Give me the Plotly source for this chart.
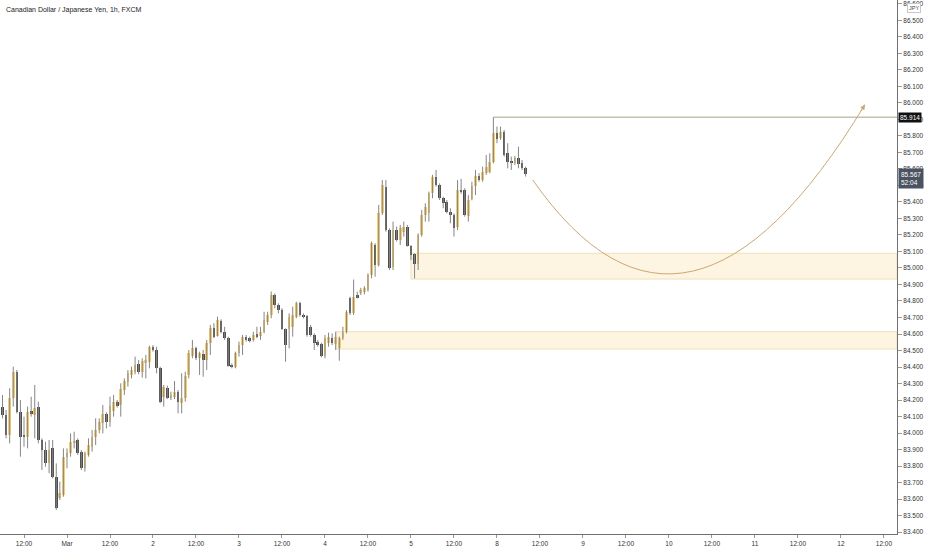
import plotly.graph_objects as go

# hourly CADJPY candles (bar index 0 = Feb 26 ~06:00)
opens = [84.160, 84.109, 83.988, 84.210, 84.372, 84.129, 83.988, 83.978, 84.135, 84.109,
         84.156, 83.958, 83.897, 83.816, 83.907, 83.735, 83.604, 83.624, 83.853, 83.877,
         83.941, 83.958, 83.887, 83.786, 83.867, 83.917, 83.978, 84.018, 84.059, 84.115,
         84.065, 84.133, 84.186, 84.170, 84.261, 84.311, 84.352, 84.368, 84.416, 84.372,
         84.422, 84.432, 84.523, 84.503, 84.392, 84.220, 84.275, 84.218, 84.220, 84.246,
         84.180, 84.210, 84.352, 84.469, 84.513, 84.453, 84.477, 84.442, 84.543, 84.634,
         84.585, 84.679, 84.614, 84.574, 84.412, 84.402, 84.483, 84.533, 84.584, 84.574,
         84.564, 84.598, 84.590, 84.614, 84.675, 84.715, 84.836, 84.776, 84.745, 84.628,
         84.628, 84.644, 84.705, 84.786, 84.715, 84.709, 84.640, 84.594, 84.554, 84.539,
         84.467, 84.543, 84.574, 84.539, 84.513, 84.574, 84.614, 84.816, 84.725, 84.836,
         84.846, 84.853, 84.867, 84.958, 85.139, 85.018, 85.331, 85.493, 85.230, 85.008,
         85.230, 85.170, 85.220, 85.251, 85.133, 85.085, 85.024, 85.200, 85.321, 85.331,
         85.453, 85.554, 85.503, 85.422, 85.402, 85.341, 85.321, 85.251, 85.475, 85.473,
         85.315, 85.420, 85.497, 85.558, 85.533, 85.574, 85.584, 85.644, 85.816, 85.786,
         85.826, 85.695, 85.650, 85.634, 85.665, 85.638, 85.604]
highs = [84.230, 84.139, 84.271, 84.402, 84.382, 84.200, 84.099, 84.160, 84.220, 84.291,
         84.190, 83.968, 83.947, 83.958, 83.958, 83.816, 83.705, 83.907, 83.907, 83.998,
         84.008, 83.968, 83.897, 83.887, 83.968, 84.018, 84.089, 84.089, 84.170, 84.125,
         84.220, 84.230, 84.200, 84.301, 84.331, 84.382, 84.402, 84.463, 84.442, 84.453,
         84.473, 84.529, 84.533, 84.523, 84.402, 84.291, 84.287, 84.251, 84.315, 84.261,
         84.362, 84.372, 84.503, 84.564, 84.523, 84.493, 84.503, 84.564, 84.655, 84.665,
         84.705, 84.689, 84.644, 84.584, 84.422, 84.493, 84.554, 84.594, 84.594, 84.584,
         84.614, 84.644, 84.644, 84.735, 84.735, 84.857, 84.846, 84.786, 84.756, 84.634,
         84.725, 84.766, 84.796, 84.796, 84.725, 84.715, 84.655, 84.604, 84.564, 84.547,
         84.594, 84.608, 84.604, 84.614, 84.584, 84.644, 84.745, 84.826, 84.930, 84.857,
         84.880, 84.890, 84.968, 85.160, 85.150, 85.382, 85.533, 85.533, 85.240, 85.281,
         85.251, 85.261, 85.281, 85.261, 85.139, 85.089, 85.210, 85.352, 85.392, 85.463,
         85.564, 85.594, 85.513, 85.432, 85.412, 85.362, 85.331, 85.533, 85.540, 85.483,
         85.442, 85.523, 85.594, 85.574, 85.614, 85.685, 85.695, 85.914, 85.857, 85.857,
         85.836, 85.756, 85.675, 85.679, 85.735, 85.655, 85.614]
lows = [84.089, 83.968, 83.937, 84.160, 84.119, 83.857, 83.917, 83.907, 84.099, 83.968,
        83.937, 83.776, 83.796, 83.756, 83.725, 83.533, 83.594, 83.614, 83.786, 83.857,
        83.907, 83.867, 83.776, 83.766, 83.857, 83.887, 83.927, 83.998, 83.998, 84.028,
        84.038, 84.099, 84.154, 84.099, 84.230, 84.281, 84.331, 84.356, 84.356, 84.335,
        84.331, 84.392, 84.493, 84.362, 84.180, 84.160, 84.206, 84.200, 84.206, 84.119,
        84.119, 84.190, 84.331, 84.453, 84.442, 84.352, 84.341, 84.382, 84.473, 84.574,
        84.584, 84.604, 84.564, 84.402, 84.392, 84.392, 84.463, 84.473, 84.554, 84.549,
        84.554, 84.574, 84.564, 84.604, 84.655, 84.695, 84.756, 84.725, 84.624, 84.432,
        84.513, 84.584, 84.695, 84.705, 84.695, 84.584, 84.584, 84.503, 84.523, 84.459,
        84.453, 84.523, 84.533, 84.503, 84.438, 84.564, 84.604, 84.715, 84.715, 84.816,
        84.836, 84.840, 84.857, 84.937, 84.947, 85.008, 85.321, 85.220, 84.988, 84.988,
        85.160, 85.139, 85.190, 85.129, 85.048, 84.937, 84.988, 85.190, 85.281, 85.281,
        85.422, 85.493, 85.412, 85.362, 85.331, 85.271, 85.190, 85.230, 85.450, 85.311,
        85.281, 85.410, 85.442, 85.523, 85.523, 85.564, 85.574, 85.634, 85.756, 85.776,
        85.675, 85.604, 85.594, 85.624, 85.604, 85.594, 85.554]
closes = [84.109, 83.988, 84.210, 84.372, 84.129, 83.978, 83.978, 84.129, 84.115, 84.149,
          83.958, 83.897, 83.816, 83.897, 83.735, 83.543, 83.634, 83.857, 83.881, 83.947,
          83.947, 83.877, 83.786, 83.877, 83.927, 83.978, 84.018, 84.065, 84.115, 84.065,
          84.166, 84.186, 84.166, 84.267, 84.315, 84.362, 84.382, 84.412, 84.368, 84.436,
          84.442, 84.523, 84.503, 84.392, 84.190, 84.281, 84.214, 84.230, 84.246, 84.190,
          84.210, 84.347, 84.483, 84.513, 84.457, 84.483, 84.442, 84.543, 84.634, 84.580,
          84.685, 84.614, 84.574, 84.406, 84.398, 84.483, 84.533, 84.584, 84.564, 84.558,
          84.594, 84.580, 84.614, 84.685, 84.715, 84.836, 84.776, 84.745, 84.628, 84.533,
          84.705, 84.715, 84.786, 84.715, 84.705, 84.594, 84.594, 84.543, 84.533, 84.467,
          84.574, 84.584, 84.547, 84.580, 84.574, 84.614, 84.735, 84.725, 84.826, 84.820,
          84.867, 84.877, 84.958, 85.149, 85.018, 85.331, 85.503, 85.230, 84.998, 85.230,
          85.170, 85.240, 85.251, 85.133, 85.079, 85.024, 85.200, 85.321, 85.372, 85.453,
          85.554, 85.503, 85.422, 85.396, 85.341, 85.321, 85.240, 85.473, 85.465, 85.321,
          85.412, 85.497, 85.558, 85.533, 85.584, 85.614, 85.644, 85.816, 85.780, 85.826,
          85.685, 85.644, 85.638, 85.665, 85.630, 85.604, 85.567]

tick_pos = [6, 18, 30, 42, 54, 66, 78, 90, 102, 114, 126, 138, 150, 162, 174, 186, 198, 210, 222, 234, 246]
tick_text = ["12:00", "Mar", "12:00", "2", "12:00", "3", "12:00", "4", "12:00", "5", "12:00",
             "8", "12:00", "9", "12:00", "10", "12:00", "11", "12:00", "12", "12:00"]

# drawings
high_start, high_price = 137, 85.914
zones = [(114, 84.933, 85.089), (93, 84.509, 84.614)]   # start bar, low, high
arc_x = [148, 190.8, 240.7]
arc_y = [85.533, 84.20, 85.99]
last_price, countdown = 85.567, "52:04"

X_MIN, X_MAX = -0.7, 249.65
Y_MIN, Y_MAX = 83.388, 86.624

BULL = "#f3cc76"
BEAR = "#4c4c4c"
WICK = "#858585"
FONT = "Liberation Sans, Arial"

idx = list(range(len(opens)))

wx, wy = [], []
for i in idx:
    wx += [i, i, None]
    wy += [lows[i], highs[i], None]

base = [min(o, c) for o, c in zip(opens, closes)]
height = [max(abs(c - o), 0.006) for o, c in zip(opens, closes)]
colors = [BULL if c >= o else BEAR for o, c in zip(opens, closes)]

fig = go.Figure()
fig.add_trace(go.Scatter(x=wx, y=wy, mode="lines", line=dict(color=WICK, width=1),
                         hoverinfo="skip", showlegend=False))
fig.add_trace(go.Bar(x=idx, y=height, base=base, width=0.75, marker=dict(color=colors, line=dict(width=0)),
                     showlegend=False))
fig.add_trace(go.Scatter(x=[high_start, X_MAX], y=[high_price, high_price], mode="lines",
                         line=dict(color="#aaa28a", width=1), showlegend=False))

for start, lo, hi in zones:
    fig.add_shape(type="rect", xref="x", yref="y", x0=start, x1=X_MAX, y0=lo, y1=hi,
                  fillcolor="#fdf5e1", line=dict(color="#efe0b6", width=1), layer="below")

fig.add_shape(type="path", xref="x", yref="y",
              path=f"M {arc_x[0]},{arc_y[0]} Q {arc_x[1]},{arc_y[1]} {arc_x[2]},{arc_y[2]}",
              line=dict(color="#c9a873", width=1))
fig.add_annotation(x=arc_x[2], y=arc_y[2], ax=-5, ay=8, showarrow=True, arrowhead=2,
                   arrowsize=1, arrowwidth=1, arrowcolor="#c9a873", text="")

fig.add_annotation(xref="paper", x=0, xanchor="left", xshift=4, yref="paper", y=1, yanchor="top",
                   yshift=-4, text="Canadian Dollar / Japanese Yen, 1h, FXCM", showarrow=False,
                   font=dict(family=FONT, size=7, color="#222"))
fig.add_annotation(xref="paper", x=1, xanchor="left", xshift=1, yref="y", y=high_price,
                   text=f"{high_price:.3f}", showarrow=False, bgcolor="#111", borderpad=1,
                   font=dict(family=FONT, size=6.5, color="white"))
fig.add_annotation(xref="paper", x=1, xanchor="left", xshift=1, yref="y", y=last_price,
                   yanchor="top", yshift=6, text=f"{last_price:.3f}<br>{countdown}", showarrow=False,
                   bgcolor="#4b5261", borderpad=2, align="left",
                   font=dict(family=FONT, size=6.5, color="white"))
fig.add_annotation(xref="paper", x=1, xanchor="left", xshift=10, yref="paper", y=1, yanchor="top",
                   yshift=-3, text="JPY", showarrow=False, bgcolor="white", bordercolor="#c8c8c8",
                   borderwidth=1, borderpad=1, font=dict(family=FONT, size=5.5, color="#444"))

fig.update_layout(
    width=932, height=550,
    margin=dict(l=0, r=35, t=0, b=16),
    paper_bgcolor="white", plot_bgcolor="white",
    bargap=0, showlegend=False,
    font=dict(family=FONT, size=6.5, color="#333"),
    xaxis=dict(range=[X_MIN, X_MAX], tickvals=tick_pos, ticktext=tick_text, showgrid=False,
               zeroline=False, showline=True, linecolor="#707070", ticks="outside", ticklen=3,
               tickcolor="#999", tickfont=dict(size=6.5, color="#333")),
    yaxis=dict(range=[Y_MIN, Y_MAX], side="right", dtick=0.1, tick0=0, tickformat=".3f",
               showgrid=False, zeroline=False, showline=True, linecolor="#707070", ticks="outside",
               ticklen=4, tickcolor="#999", tickfont=dict(size=6.5, color="#333")),
)

# drop the default 8px page margin so the figure sits at the window's corner
fig.write_html("out.html", config={"displayModeBar": False},
               post_script="document.body.style.margin='0';")
